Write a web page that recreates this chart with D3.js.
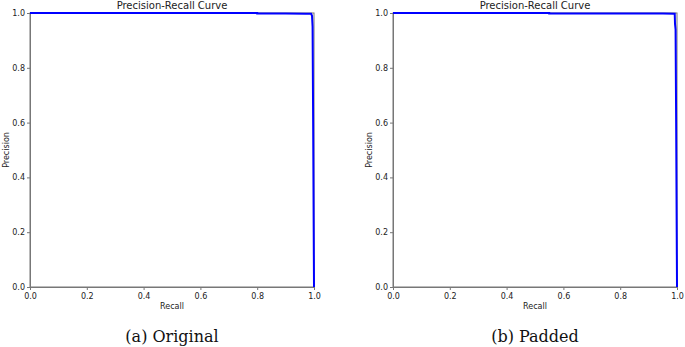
<!DOCTYPE html>
<html lang="en">
<head>
<meta charset="UTF-8">
<title>Precision-Recall Curves</title>
<script src="https://cdn.jsdelivr.net/npm/d3@7/dist/d3.min.js"></script>
<style>
  body { margin: 0; background: #fff; }
  svg { display: block; }
  .tick text { font-family: "DejaVu Sans", sans-serif; font-size: 8px; fill: #222; }
  .lbl { font-family: "DejaVu Sans", sans-serif; font-size: 8px; fill: #222; }
  .ttl { font-family: "DejaVu Sans", sans-serif; font-size: 10px; fill: #222; }
  .cap { font-family: "DejaVu Serif", serif; font-size: 16px; fill: #111; }
</style>
</head>
<body>
<svg width="685" height="347"></svg>
<script>
  // data
  const ticks = [0, 0.2, 0.4, 0.6, 0.8, 1.0];

  const recallA    = [0, 0.30, 0.60, 0.80, 0.80, 0.90, 0.97, 0.990, 0.993, 0.995, 0.997, 0.999, 1.0];
  const precisionA = [1, 1.00, 1.00, 1.00, 0.998, 0.998, 0.997, 0.997, 0.99, 0.95, 0.60, 0.20, 0.0];

  const recallB    = [0, 0.30, 0.55, 0.55, 0.80, 0.95, 0.992, 0.993, 0.995, 0.997, 0.999, 1.0];
  const precisionB = [1, 1.00, 1.00, 0.998, 0.998, 0.998, 0.997, 0.96, 0.94, 0.60, 0.20, 0.0];

  const panels = [
    { left: 30,  caption: "(a) Original", recall: recallA, precision: precisionA },
    { left: 393, caption: "(b) Padded",   recall: recallB, precision: precisionB }
  ];

  const plotW = 284, plotTop = 13, plotH = 274;
  const svg = d3.select("svg");

  panels.forEach(p => {
    const g = svg.append("g").attr("transform", `translate(${p.left},${plotTop})`);
    const x = d3.scaleLinear().domain([0, 1]).range([0, plotW]);
    const y = d3.scaleLinear().domain([0, 1]).range([plotH, 0]);

    // frame
    g.append("rect").attr("width", plotW).attr("height", plotH)
      .attr("fill", "none").attr("stroke", "#777").attr("stroke-width", 1);

    const xAxis = g.append("g").attr("transform", `translate(0,${plotH})`)
      .call(d3.axisBottom(x).tickValues(ticks).tickFormat(d3.format(".1f")).tickSize(3).tickPadding(3.5));
    const yAxis = g.append("g")
      .call(d3.axisLeft(y).tickValues(ticks).tickFormat(d3.format(".1f")).tickSize(3).tickPadding(2));
    [xAxis, yAxis].forEach(a => {
      a.select(".domain").attr("stroke", "#777");
      a.selectAll(".tick line").attr("stroke", "#777");
    });

    const pts = p.recall.map((r, i) => [r, p.precision[i]]);
    g.append("path")
      .datum(pts)
      .attr("fill", "none")
      .attr("stroke", "#0000ff")
      .attr("stroke-width", 2)
      .attr("d", d3.line().x(d => x(d[0])).y(d => y(d[1])));

    g.append("text").attr("class", "ttl")
      .attr("x", plotW / 2).attr("y", -4).attr("text-anchor", "middle")
      .text("Precision-Recall Curve");
    g.append("text").attr("class", "lbl")
      .attr("x", plotW / 2).attr("y", plotH + 22).attr("text-anchor", "middle")
      .text("Recall");
    g.append("text").attr("class", "lbl")
      .attr("transform", `translate(-21,${plotH / 2}) rotate(-90)`)
      .attr("text-anchor", "middle")
      .text("Precision");
    g.append("text").attr("class", "cap")
      .attr("x", plotW / 2).attr("y", plotH + 55).attr("text-anchor", "middle")
      .text(p.caption);
  });
</script>
</body>
</html>
